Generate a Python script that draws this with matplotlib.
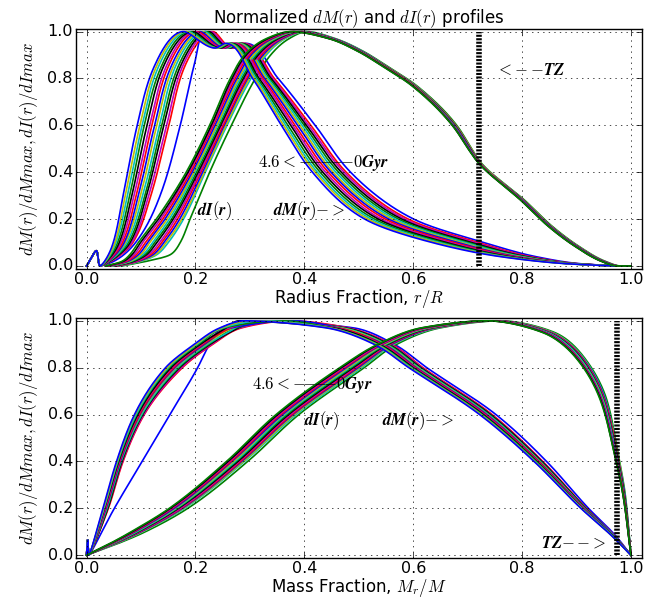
import numpy as np
import matplotlib
matplotlib.use("Agg")
import matplotlib.pyplot as plt

plt.style.use("classic")
plt.rcParams["figure.facecolor"] = "white"
plt.rcParams["savefig.facecolor"] = "white"
plt.rcParams["mathtext.fontset"] = "cm"

# Normalized profile levels along each curve (shared by all models of a family);
# per-model rows give the abscissa where each level is reached.
# Model 0 is the ZAMS (0 Gyr) model, model 14 the 4.6 Gyr model.

# ---- radius coordinate (r/R) ----
spike_r_x = [0.0, 0.018, 0.025]
spike_y = [0.0, 0.065, 0.0]

lv_dm_r = [0.02, 0.1, 0.3, 0.6, 0.85, 1.0, 0.93, 0.95, 0.8, 0.6, 0.4, 0.2, 0.1, 0.04, 0.01, 0.0]
dm_r = [
    [0.050, 0.090, 0.135, 0.172, 0.197, 0.218, 0.272, 0.292, 0.352, 0.420, 0.485, 0.601, 0.730, 0.825, 0.905, 0.975],
    [0.045, 0.085, 0.118, 0.151, 0.180, 0.232, 0.268, 0.288, 0.345, 0.412, 0.477, 0.591, 0.720, 0.815, 0.900, 0.975],
    [0.044, 0.083, 0.114, 0.147, 0.176, 0.228, 0.266, 0.286, 0.342, 0.408, 0.473, 0.585, 0.714, 0.811, 0.899, 0.975],
    [0.043, 0.080, 0.110, 0.142, 0.172, 0.224, 0.263, 0.283, 0.339, 0.404, 0.468, 0.579, 0.707, 0.807, 0.897, 0.974],
    [0.042, 0.077, 0.107, 0.138, 0.168, 0.220, 0.261, 0.281, 0.336, 0.400, 0.463, 0.573, 0.701, 0.803, 0.896, 0.974],
    [0.041, 0.074, 0.103, 0.134, 0.163, 0.216, 0.258, 0.278, 0.333, 0.396, 0.458, 0.567, 0.695, 0.799, 0.894, 0.974],
    [0.040, 0.071, 0.099, 0.129, 0.159, 0.212, 0.256, 0.276, 0.330, 0.392, 0.453, 0.561, 0.688, 0.794, 0.892, 0.973],
    [0.040, 0.069, 0.095, 0.125, 0.155, 0.208, 0.254, 0.273, 0.327, 0.388, 0.449, 0.555, 0.682, 0.790, 0.891, 0.973],
    [0.039, 0.066, 0.091, 0.120, 0.150, 0.203, 0.251, 0.271, 0.324, 0.383, 0.444, 0.549, 0.675, 0.786, 0.889, 0.972],
    [0.038, 0.063, 0.087, 0.116, 0.146, 0.199, 0.249, 0.268, 0.321, 0.379, 0.439, 0.542, 0.668, 0.781, 0.888, 0.972],
    [0.037, 0.060, 0.083, 0.111, 0.141, 0.195, 0.246, 0.265, 0.317, 0.375, 0.434, 0.536, 0.661, 0.777, 0.886, 0.972],
    [0.036, 0.057, 0.079, 0.106, 0.137, 0.190, 0.243, 0.263, 0.314, 0.370, 0.429, 0.529, 0.655, 0.773, 0.885, 0.971],
    [0.035, 0.054, 0.075, 0.102, 0.132, 0.186, 0.241, 0.260, 0.311, 0.366, 0.424, 0.523, 0.648, 0.768, 0.883, 0.971],
    [0.034, 0.052, 0.071, 0.098, 0.128, 0.182, 0.239, 0.258, 0.308, 0.362, 0.420, 0.517, 0.642, 0.764, 0.882, 0.970],
    [0.033, 0.049, 0.067, 0.093, 0.124, 0.178, 0.236, 0.255, 0.305, 0.358, 0.415, 0.511, 0.635, 0.760, 0.880, 0.970],
]

lv_di_r = [0.0, 0.02, 0.05, 0.1, 0.2, 0.4, 0.6, 0.8, 0.9, 0.97, 1.0, 0.97, 0.92, 0.85,
           0.77, 0.6, 0.49, 0.445, 0.28, 0.17, 0.083, 0.018, 0.0, 0.0]
di_r = [
    [0.065, 0.110, 0.155, 0.172, 0.190, 0.226, 0.266, 0.310, 0.338, 0.372, 0.405, 0.457, 0.505, 0.554, 0.606, 0.680, 0.710, 0.723, 0.805, 0.855, 0.905, 0.955, 0.982, 1.0],
    [0.060, 0.100, 0.130, 0.150, 0.178, 0.218, 0.258, 0.302, 0.330, 0.365, 0.402, 0.455, 0.503, 0.552, 0.604, 0.678, 0.709, 0.722, 0.803, 0.853, 0.903, 0.953, 0.980, 1.0],
    [0.058, 0.098, 0.127, 0.146, 0.175, 0.216, 0.256, 0.299, 0.327, 0.363, 0.400, 0.454, 0.502, 0.552, 0.604, 0.678, 0.709, 0.722, 0.803, 0.853, 0.903, 0.953, 0.980, 1.0],
    [0.056, 0.095, 0.123, 0.142, 0.171, 0.213, 0.253, 0.296, 0.324, 0.360, 0.398, 0.454, 0.502, 0.551, 0.603, 0.677, 0.708, 0.721, 0.802, 0.852, 0.902, 0.952, 0.979, 1.0],
    [0.055, 0.092, 0.119, 0.138, 0.167, 0.210, 0.251, 0.294, 0.321, 0.357, 0.396, 0.453, 0.501, 0.550, 0.602, 0.677, 0.708, 0.721, 0.802, 0.852, 0.902, 0.952, 0.979, 1.0],
    [0.053, 0.090, 0.115, 0.134, 0.163, 0.208, 0.248, 0.291, 0.318, 0.355, 0.394, 0.452, 0.501, 0.550, 0.602, 0.676, 0.708, 0.721, 0.802, 0.852, 0.902, 0.952, 0.979, 1.0],
    [0.051, 0.087, 0.111, 0.129, 0.159, 0.205, 0.246, 0.288, 0.315, 0.352, 0.392, 0.451, 0.500, 0.549, 0.601, 0.676, 0.707, 0.720, 0.801, 0.851, 0.901, 0.951, 0.978, 1.0],
    [0.049, 0.084, 0.108, 0.125, 0.156, 0.202, 0.244, 0.285, 0.312, 0.349, 0.390, 0.451, 0.499, 0.549, 0.601, 0.675, 0.707, 0.720, 0.801, 0.851, 0.901, 0.951, 0.978, 1.0],
    [0.047, 0.081, 0.104, 0.121, 0.152, 0.199, 0.241, 0.282, 0.309, 0.346, 0.388, 0.450, 0.499, 0.548, 0.600, 0.675, 0.706, 0.720, 0.800, 0.850, 0.900, 0.950, 0.977, 1.0],
    [0.045, 0.079, 0.100, 0.116, 0.148, 0.197, 0.239, 0.279, 0.306, 0.344, 0.386, 0.449, 0.498, 0.548, 0.600, 0.674, 0.706, 0.720, 0.800, 0.850, 0.900, 0.950, 0.977, 1.0],
    [0.043, 0.076, 0.096, 0.112, 0.144, 0.194, 0.236, 0.276, 0.302, 0.341, 0.383, 0.448, 0.497, 0.547, 0.599, 0.674, 0.706, 0.719, 0.800, 0.850, 0.900, 0.950, 0.977, 1.0],
    [0.041, 0.073, 0.092, 0.108, 0.140, 0.191, 0.233, 0.273, 0.299, 0.338, 0.381, 0.447, 0.497, 0.547, 0.599, 0.673, 0.705, 0.719, 0.799, 0.849, 0.899, 0.949, 0.976, 1.0],
    [0.039, 0.070, 0.088, 0.103, 0.136, 0.188, 0.231, 0.270, 0.296, 0.335, 0.379, 0.447, 0.496, 0.546, 0.598, 0.673, 0.705, 0.719, 0.799, 0.849, 0.899, 0.949, 0.976, 1.0],
    [0.037, 0.068, 0.084, 0.099, 0.132, 0.186, 0.229, 0.267, 0.293, 0.333, 0.377, 0.446, 0.496, 0.546, 0.598, 0.672, 0.704, 0.718, 0.798, 0.848, 0.898, 0.948, 0.975, 1.0],
    [0.035, 0.065, 0.080, 0.095, 0.128, 0.183, 0.226, 0.264, 0.290, 0.330, 0.375, 0.445, 0.495, 0.545, 0.597, 0.672, 0.704, 0.718, 0.798, 0.848, 0.898, 0.948, 0.975, 1.0],
]

# ---- mass coordinate (M_r/M) ----
spike_m_x = [0.0, 0.002, 0.004]

lv_dm_m = [0.2, 0.4, 0.6, 0.8, 0.9, 0.97, 1.0, 0.97, 0.9, 0.8, 0.6, 0.4, 0.2, 0.08, 0.0]
dm_m = [
    [0.051, 0.102, 0.153, 0.204, 0.226, 0.248, 0.300, 0.490, 0.565, 0.625, 0.752, 0.845, 0.922, 0.973, 1.0],
    [0.040, 0.067, 0.106, 0.176, 0.232, 0.285, 0.375, 0.480, 0.560, 0.618, 0.745, 0.838, 0.918, 0.971, 1.0],
    [0.039, 0.066, 0.105, 0.174, 0.230, 0.282, 0.360, 0.477, 0.558, 0.616, 0.743, 0.837, 0.917, 0.971, 1.0],
    [0.039, 0.065, 0.103, 0.171, 0.227, 0.279, 0.310, 0.474, 0.555, 0.614, 0.742, 0.836, 0.917, 0.970, 1.0],
    [0.038, 0.064, 0.102, 0.169, 0.225, 0.276, 0.350, 0.471, 0.553, 0.612, 0.740, 0.834, 0.916, 0.970, 1.0],
    [0.037, 0.063, 0.101, 0.167, 0.222, 0.273, 0.290, 0.468, 0.550, 0.610, 0.738, 0.833, 0.915, 0.970, 1.0],
    [0.036, 0.062, 0.099, 0.164, 0.219, 0.270, 0.330, 0.465, 0.548, 0.608, 0.736, 0.832, 0.914, 0.969, 1.0],
    [0.036, 0.062, 0.098, 0.162, 0.217, 0.267, 0.380, 0.462, 0.546, 0.606, 0.735, 0.831, 0.914, 0.969, 1.0],
    [0.035, 0.061, 0.097, 0.160, 0.214, 0.264, 0.300, 0.459, 0.543, 0.604, 0.733, 0.830, 0.913, 0.968, 1.0],
    [0.034, 0.060, 0.095, 0.157, 0.211, 0.261, 0.340, 0.456, 0.540, 0.602, 0.731, 0.828, 0.912, 0.968, 1.0],
    [0.033, 0.059, 0.094, 0.155, 0.209, 0.257, 0.280, 0.452, 0.538, 0.600, 0.729, 0.827, 0.911, 0.968, 1.0],
    [0.032, 0.058, 0.092, 0.152, 0.206, 0.254, 0.360, 0.449, 0.535, 0.598, 0.727, 0.826, 0.910, 0.967, 1.0],
    [0.032, 0.057, 0.091, 0.150, 0.203, 0.251, 0.320, 0.446, 0.533, 0.596, 0.725, 0.824, 0.910, 0.967, 1.0],
    [0.031, 0.056, 0.089, 0.148, 0.201, 0.248, 0.300, 0.443, 0.531, 0.594, 0.724, 0.823, 0.909, 0.966, 1.0],
    [0.030, 0.055, 0.088, 0.145, 0.198, 0.245, 0.290, 0.440, 0.528, 0.592, 0.722, 0.822, 0.908, 0.966, 1.0],
]

lv_di_m = [0.0, 0.05, 0.1, 0.2, 0.4, 0.6, 0.8, 0.9, 0.97, 1.0, 0.95, 0.85, 0.66, 0.45, 0.25, 0.0]
di_m = [
    [0.0, 0.058, 0.108, 0.186, 0.296, 0.390, 0.510, 0.570, 0.650, 0.760, 0.860, 0.912, 0.956, 0.975, 0.990, 1.0],
    [0.0, 0.055, 0.103, 0.180, 0.290, 0.385, 0.505, 0.565, 0.645, 0.755, 0.856, 0.910, 0.954, 0.974, 0.989, 1.0],
    [0.0, 0.054, 0.102, 0.178, 0.288, 0.382, 0.502, 0.563, 0.643, 0.754, 0.855, 0.909, 0.953, 0.974, 0.989, 1.0],
    [0.0, 0.053, 0.100, 0.176, 0.285, 0.379, 0.499, 0.561, 0.641, 0.752, 0.853, 0.908, 0.953, 0.973, 0.989, 1.0],
    [0.0, 0.052, 0.098, 0.174, 0.283, 0.377, 0.496, 0.558, 0.638, 0.751, 0.852, 0.907, 0.952, 0.973, 0.988, 1.0],
    [0.0, 0.051, 0.097, 0.172, 0.280, 0.374, 0.493, 0.556, 0.636, 0.749, 0.851, 0.906, 0.951, 0.972, 0.988, 1.0],
    [0.0, 0.050, 0.095, 0.169, 0.278, 0.371, 0.490, 0.554, 0.634, 0.747, 0.849, 0.905, 0.950, 0.972, 0.988, 1.0],
    [0.0, 0.050, 0.094, 0.167, 0.275, 0.368, 0.487, 0.552, 0.632, 0.746, 0.848, 0.904, 0.950, 0.971, 0.988, 1.0],
    [0.0, 0.049, 0.092, 0.165, 0.273, 0.365, 0.484, 0.549, 0.629, 0.744, 0.847, 0.903, 0.949, 0.971, 0.987, 1.0],
    [0.0, 0.048, 0.090, 0.163, 0.270, 0.362, 0.481, 0.547, 0.627, 0.743, 0.845, 0.901, 0.948, 0.970, 0.987, 1.0],
    [0.0, 0.047, 0.089, 0.161, 0.267, 0.360, 0.477, 0.544, 0.624, 0.741, 0.844, 0.900, 0.947, 0.970, 0.987, 1.0],
    [0.0, 0.046, 0.087, 0.158, 0.265, 0.357, 0.474, 0.542, 0.622, 0.740, 0.842, 0.899, 0.946, 0.969, 0.987, 1.0],
    [0.0, 0.045, 0.085, 0.156, 0.262, 0.354, 0.471, 0.540, 0.620, 0.738, 0.841, 0.898, 0.946, 0.969, 0.986, 1.0],
    [0.0, 0.044, 0.084, 0.154, 0.260, 0.351, 0.468, 0.537, 0.617, 0.737, 0.839, 0.897, 0.945, 0.968, 0.986, 1.0],
    [0.0, 0.043, 0.082, 0.152, 0.257, 0.348, 0.465, 0.535, 0.615, 0.735, 0.838, 0.896, 0.944, 0.968, 0.986, 1.0],
]

# base of the convection zone (tachocline)
r_tz = 0.72
m_tz = 0.975


def pchip(t, v, tt):
    """Monotone piecewise-cubic Hermite interpolation."""
    t = np.asarray(t, float)
    v = np.asarray(v, float)
    h = np.diff(t)
    d = np.diff(v) / h
    n = len(v)
    m = np.zeros(n)
    for k in range(1, n - 1):
        if d[k - 1] * d[k] > 0:
            w1 = 2 * h[k] + h[k - 1]
            w2 = h[k] + 2 * h[k - 1]
            m[k] = (w1 + w2) / (w1 / d[k - 1] + w2 / d[k])
    m[0] = d[0]
    m[-1] = d[-1]
    idx = np.clip(np.searchsorted(t, tt, side="right") - 1, 0, n - 2)
    hk = h[idx]
    s = (tt - t[idx]) / hk
    h00 = 2 * s**3 - 3 * s**2 + 1
    h10 = s**3 - 2 * s**2 + s
    h01 = -2 * s**3 + 3 * s**2
    h11 = s**3 - s**2
    return h00 * v[idx] + h10 * hk * m[idx] + h01 * v[idx + 1] + h11 * hk * m[idx + 1]


def smooth(xs, ys, n=700):
    """Smooth parametric curve through the knots (chord-length parameter)."""
    xs = np.asarray(xs, float)
    ys = np.asarray(ys, float)
    seg = np.hypot(np.diff(xs), np.diff(ys))
    t = np.concatenate([[0.0], np.cumsum(seg)])
    tt = np.linspace(0.0, t[-1], n)
    return pchip(t, xs, tt), pchip(t, ys, tt)


fig = plt.figure(figsize=(6.47, 6.0), dpi=100)
ax1 = fig.add_axes([0.117, 0.552, 0.875, 0.400])
ax2 = fig.add_axes([0.117, 0.070, 0.875, 0.400])

LW = 1.2
for k in range(len(dm_r)):
    ax1.plot(*smooth(spike_r_x + dm_r[k], spike_y + lv_dm_r), lw=LW)
    ax1.plot(*smooth(di_r[k], lv_di_r), lw=LW)
    ax2.plot(*smooth(spike_m_x + dm_m[k], spike_y + lv_dm_m), lw=LW)
    ax2.plot(*smooth(di_m[k], lv_di_m), lw=LW)

for ax, xt in ((ax1, r_tz), (ax2, m_tz)):
    ax.plot([xt, xt], [0, 1], color="k", lw=4, ls=(0, (1.5, 1.0)))
    ax.set_xlim(-0.02, 1.02)
    ax.set_ylim(-0.012, 1.012)
    ax.grid(True)
    ax.tick_params(labelsize=11.5, pad=2)
    ax.set_ylabel(r"$dM(r)/dMmax,dI(r)/dImax$", fontsize=12)

ax1.set_title(r"Normalized $dM(r)$ and $dI(r)$ profiles", fontsize=12, pad=4)
ax1.set_xlabel(r"Radius Fraction, $r/R$", fontsize=12, labelpad=0)
ax2.set_xlabel(r"Mass Fraction, $M_r/M$", fontsize=12, labelpad=0)

kw = dict(fontsize=12, va="center")
ax1.text(0.753, 0.837, r"$\boldsymbol{<}{-}\,{-}\boldsymbol{TZ}$", **kw)
ax1.text(0.314, 0.44, r"$\mathbf{4.6}\boldsymbol{<}{-}\!{-}\!{-}\!{-}\!{-}\mathbf{0}\boldsymbol{Gyr}$", **kw)
ax1.text(0.203, 0.235, r"$\boldsymbol{dI(r)}$", **kw)
ax1.text(0.342, 0.235, r"$\boldsymbol{dM(r)}{-}\boldsymbol{>}$", **kw)
ax2.text(0.304, 0.725, r"$\mathbf{4.6}\boldsymbol{<}{-}\!{-}\!{-}\!{-}\mathbf{0}\boldsymbol{Gyr}$", **kw)
ax2.text(0.40, 0.575, r"$\boldsymbol{dI(r)}$", **kw)
ax2.text(0.543, 0.575, r"$\boldsymbol{dM(r)}{-}\boldsymbol{>}$", **kw)
ax2.text(0.834, 0.053, r"$\boldsymbol{TZ}{-}\,{-}\boldsymbol{>}$", **kw)

fig.savefig("out.png", dpi=100)
